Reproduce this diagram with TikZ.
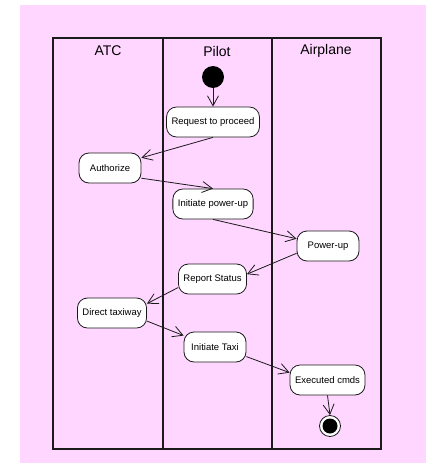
\documentclass[tikz,border=0pt]{standalone}
\usepackage{fontspec}
\setmainfont{Liberation Sans}
\usetikzlibrary{arrows.meta}
\definecolor{Lane}{HTML}{FFD6FF}
\definecolor{Ink}{HTML}{1A1A1A}

\tikzset{
  act/.style={draw=Ink,fill=white,line width=0.8pt,rounded corners=10pt,
    minimum height=30pt,minimum width=62pt,inner xsep=5pt,
    font=\fontsize{9.5}{11}\selectfont},
  flow/.style={draw=Ink,line width=0.8pt,-{Straight Barb[length=10pt,width=11pt]}},
}

\begin{document}
\begin{tikzpicture}[x=1pt,y=-1pt]
  \fill[white] (0,0) rectangle (426,463);
  \fill[Lane] (20,5) rectangle (426,463);
  \useasboundingbox (0,0) rectangle (426,463);
  % swimlanes
  \draw[Ink,line width=1.1pt] (53,38) rectangle (381,449);
  \foreach \x in {163,272}
    \draw[Ink,line width=1.1pt] (\x,38) -- (\x,449);
  \foreach \x/\lab/\nm in {108/ATC/atc,217/Pilot/pilot,326/Airplane/plane}
    \node[font=\fontsize{14}{16}\selectfont] (\nm) at (\x,51) {\lab};
  % activities
  \node[circle,fill=black,minimum size=22pt,inner sep=0pt] (start) at (213,77) {};
  \node[act] (req) at (213,122) {Request to proceed};
  \node[act] (auth) at (110,168) {Authorize};
  \node[act] (ipu) at (213,204) {Initiate power-up};
  \node[act] (pwr) at (328,246) {Power-up};
  \node[act] (rep) at (212.5,279) {Report Status};
  \node[act] (dtw) at (112,313) {Direct taxiway};
  \node[act] (itx) at (215,347) {Initiate Taxi};
  \node[act] (exc) at (327.5,380) {Executed cmds};
  \node[circle,draw=Ink,line width=0.8pt,fill=white,minimum size=21pt,inner sep=0pt] (stop) at (330,426) {};
  \node[circle,fill=black,minimum size=15pt,inner sep=0pt] (stopdot) at (stop) {};
  % flows
  \draw[flow] (start) -- (req.north);
  \draw[flow] (req.south) -- (auth.18);
  \draw[flow] (auth.-18) -- (ipu.north);
  \draw[flow] (ipu.south) -- (pwr.167);
  \draw[flow] (pwr.193) -- (rep.8);
  \draw[flow] (rep.194) -- (dtw.15);
  \draw[flow] (dtw.-13) -- (itx.160);
  \draw[flow] (itx.-17) -- (exc.169);
  \draw[flow] (exc.south) -- (stop.north);
\end{tikzpicture}
\end{document}
